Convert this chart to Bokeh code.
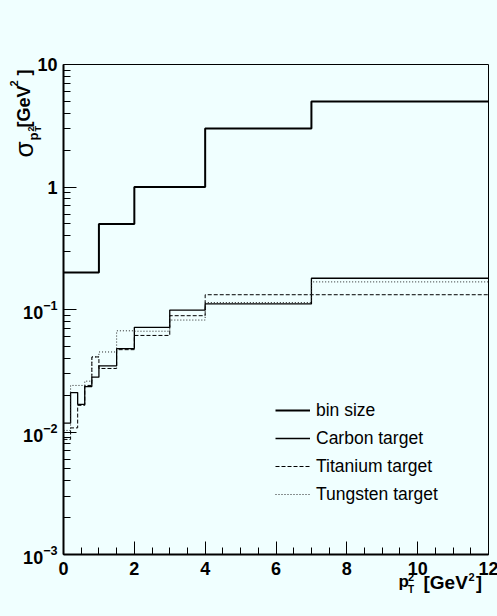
import math
from bokeh.plotting import figure
from bokeh.models import FixedTicker, Label, Legend, LegendItem, LogTickFormatter
from bokeh.embed import file_html
from bokeh.resources import INLINE

# ---------------- data ----------------
bin_edges = [0.0, 0.2, 0.4, 0.6, 0.8, 1.0, 1.5, 2.0, 3.0, 4.0, 7.0, 12.0]
bin_size = [0.2, 0.2, 0.2, 0.2, 0.2, 0.5, 0.5, 1.0, 1.0, 3.0, 5.0]
carbon = [0.0118, 0.0210, 0.0168, 0.0235, 0.0280, 0.0347, 0.0480, 0.0715, 0.0990, 0.1110, 0.1800]
titanium = [0.0087, 0.0108, 0.0165, 0.0240, 0.0410, 0.0330, 0.0470, 0.0614, 0.0890, 0.1320, 0.1320]
tungsten = [0.0103, 0.0240, 0.0240, 0.0260, 0.0410, 0.0450, 0.0670, 0.0665, 0.0820, 0.1140, 0.1680]

x_ticks = [0, 2, 4, 6, 8, 10, 12]
x_minor = [0.5 * i for i in range(25)]
y_ticks = [0.001, 0.01, 0.1, 1, 10]
y_plain_labels = {1: "1", 10: "10"}
y_minor = [k * 10.0 ** e for e in range(-3, 1) for k in range(2, 10)]

legend_labels = ["bin size", "Carbon target", "Titanium target", "Tungsten target"]

BG = "#f0ffff"
FONT = "Liberation Sans"

# frame geometry (canvas px)
FL, FT = 63, 64

p = figure(
    frame_width=425, frame_height=490,
    min_border_left=63, min_border_right=9, min_border_top=64, min_border_bottom=62,
    x_range=(0, 12), y_range=(1e-3, 10), y_axis_type="log",
    output_backend="svg", toolbar_location=None,
    background_fill_color=BG, border_fill_color=BG,
)
p.grid.visible = False
p.outline_line_color = "black"
p.outline_line_width = 1

for ax in (p.xaxis[0], p.yaxis[0]):
    ax.axis_line_width = 2
    ax.major_tick_in = 13
    ax.major_tick_out = 0
    ax.minor_tick_in = 7
    ax.minor_tick_out = 0
    ax.major_tick_line_width = 1
    ax.minor_tick_line_width = 1
    ax.major_label_text_font = FONT
    ax.major_label_text_font_style = "bold"
    ax.major_label_text_font_size = "18px"
    ax.major_label_text_color = "black"
p.xaxis.ticker = FixedTicker(ticks=x_ticks, minor_ticks=x_minor)
p.yaxis.ticker = FixedTicker(ticks=y_ticks, minor_ticks=y_minor)
p.xaxis.major_label_standoff = 7
p.yaxis.formatter = LogTickFormatter()
p.yaxis.major_label_overrides = y_plain_labels
p.yaxis.major_label_standoff = 6

# histograms
def steps(vals):
    return list(vals) + [vals[-1]]

r_bin = p.step(bin_edges, steps(bin_size), mode="after", line_color="black", line_width=2)
r_c = p.step(bin_edges, steps(carbon), mode="after", line_color="black", line_width=1.3)
r_ti = p.step(bin_edges, steps(titanium), mode="after", line_color="black", line_width=1, line_dash="4 2")
r_w = p.step(bin_edges, steps(tungsten), mode="after", line_color="#222222", line_width=1, line_dash="1 2")

legend = Legend(
    items=[LegendItem(label=l, renderers=[r]) for l, r in zip(legend_labels, [r_bin, r_c, r_ti, r_w])],
    location=(212, 46), orientation="vertical",
    border_line_color=None, background_fill_alpha=0,
    padding=0, spacing=0, margin=0,
    glyph_width=35, glyph_height=28, label_height=28, label_standoff=6,
    label_text_font=FONT, label_text_font_size="17.5px", label_text_color="black",
)
p.add_layout(legend)

# axis titles, composed of pieces (placed in the right side panel so they are not clipped)
SHIFT = 0.33  # em; measured offset of the rendered baseline below the anchor

def lab(text, px, py, size, bold=True, rotated=False):
    if rotated:
        px = px - SHIFT * size
    else:
        py = py - SHIFT * size
    p.add_layout(Label(x=0, y=10, x_offset=px - FL, y_offset=FT - py, text=text,
                       angle=math.pi / 2 if rotated else 0.0,
                       text_font=FONT, text_font_style="bold" if bold else "normal",
                       text_font_size=f"{size}px", text_align="left",
                       text_baseline="alphabetic", text_color="black"), "right")

# y title: sigma_{p_T^2} [GeV^2]   (px = baseline x, py = start of text, reading upward)
lab("σ", 32, 157, 26, bold=False, rotated=True)
lab("p", 37.5, 140, 13, rotated=True)
lab("2", 33.5, 131, 9, rotated=True)
lab("T", 40.5, 131, 9, rotated=True)
lab("[GeV", 29, 127, 18, rotated=True)
lab("2", 17.5, 86, 11, rotated=True)
lab("]", 29, 75, 18, rotated=True)
# x title: p_T^2 [GeV^2]
lab("p", 398, 587, 17)
lab("2", 407.5, 580, 11)
lab("T", 407.5, 592, 10)
lab("[GeV", 423, 588, 19)
lab("2", 468, 580, 11)
lab("]", 475.5, 588, 18)

html = file_html(p, INLINE)
html = html.replace("</head>", "<style>html,body{overflow:hidden;background-color:%s;}</style></head>" % BG, 1)
open("out.html", "w").write(html)
